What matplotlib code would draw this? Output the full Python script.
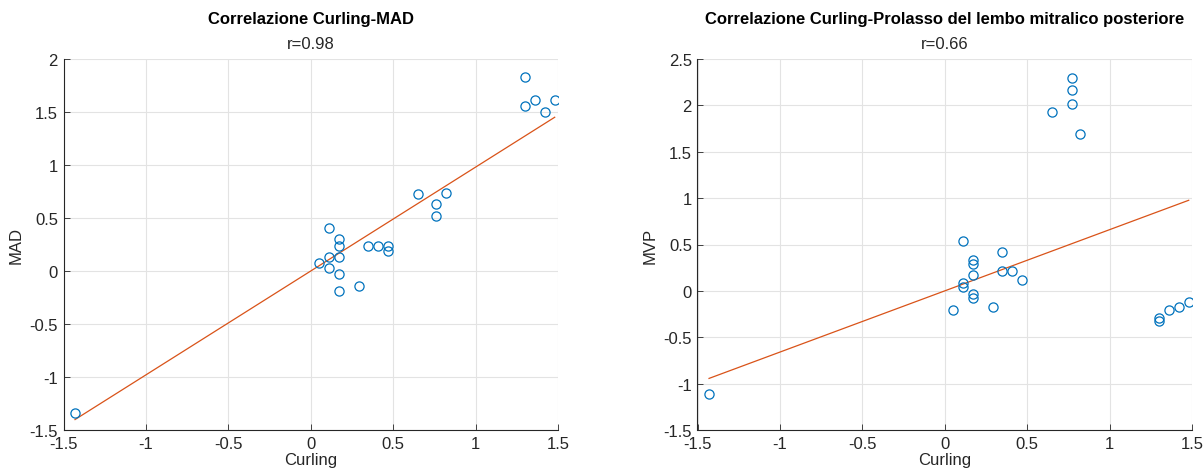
import matplotlib
matplotlib.use("Agg")
import matplotlib.pyplot as plt
import numpy as np
from matplotlib.ticker import FuncFormatter

plt.rcParams["font.family"] = ["Liberation Sans", "DejaVu Sans"]
plt.rcParams["axes.unicode_minus"] = False

# Standardised scores: Curling vs MAD
curling_mad = [0.65, 0.82, 0.76, 0.76, 0.11, 0.17, 0.17, 0.35, 0.41, 0.47,
               0.47, 0.11, 0.17, 0.05, 0.11, 0.17, 0.29, 0.17,
               1.30, 1.30, 1.36, 1.42, 1.48, -1.43]
mad = [0.73, 0.74, 0.63, 0.52, 0.41, 0.30, 0.24, 0.24, 0.24, 0.24,
       0.19, 0.13, 0.13, 0.08, 0.03, -0.03, -0.14, -0.19,
       1.83, 1.56, 1.61, 1.50, 1.61, -1.34]
r_mad = 0.98

# Standardised scores: Curling vs posterior mitral leaflet prolapse
curling_mvp = [0.11, 0.35, 0.17, 0.17, 0.17, 0.35, 0.41, 0.47, 0.11, 0.11,
               0.17, 0.17, 0.05, 0.29,
               1.30, 1.30, 1.36, 1.42, 1.48,
               0.77, 0.77, 0.77, 0.65, 0.82, -1.43]
mvp = [0.54, 0.42, 0.33, 0.29, 0.17, 0.21, 0.21, 0.12, 0.09, 0.04,
       -0.03, -0.08, -0.21, -0.17,
       -0.29, -0.33, -0.21, -0.17, -0.12,
       2.30, 2.17, 2.01, 1.93, 1.69, -1.11]
r_mvp = 0.66

panels = [
    dict(x=curling_mad, y=mad, r=r_mad, ylabel="MAD",
         title="Correlazione Curling-MAD", ylim=(-1.5, 2.0)),
    dict(x=curling_mvp, y=mvp, r=r_mvp, ylabel="MVP",
         title="Correlazione Curling-Prolasso del lembo mitralico posteriore",
         ylim=(-1.5, 2.5)),
]

W, H = 1204, 477
fig = plt.figure(figsize=(W / 100, H / 100), dpi=100)
boxes = [(63.5, 60, 558, 431), (697.5, 60, 1192, 431)]

blue = "#0072BD"
orange = "#D95319"
axcol = "#262626"
fs = 12


def tick_fmt(v, _):
    return "0" if abs(v) < 1e-9 else "%g" % round(v, 2)


for p, (x0, y0, x1, y1) in zip(panels, boxes):
    ax = fig.add_axes([x0 / W, 1 - y1 / H, (x1 - x0) / W, (y1 - y0) / H])
    xs = np.array(p["x"])
    ax.plot(xs, p["y"], "o", mfc="none", mec=blue, ms=6.6, mew=0.9, zorder=3)
    # fitted line on standardised data: y = r * x over the data range
    xl = np.array([xs.min(), xs.max()])
    ax.plot(xl, p["r"] * xl, color=orange, lw=0.9, zorder=2)

    ax.set_xlim(-1.5, 1.5)
    ax.set_ylim(*p["ylim"])
    ax.set_xticks(np.arange(-1.5, 1.51, 0.5))
    ax.set_yticks(np.arange(p["ylim"][0], p["ylim"][1] + 0.01, 0.5))
    ax.xaxis.set_major_formatter(FuncFormatter(tick_fmt))
    ax.yaxis.set_major_formatter(FuncFormatter(tick_fmt))
    ax.grid(True, color="#e3e3e3", lw=0.8, zorder=0)
    ax.set_axisbelow(True)
    for s in ("top", "right"):
        ax.spines[s].set_visible(False)
    for s in ("left", "bottom"):
        ax.spines[s].set_color(axcol)
        ax.spines[s].set_linewidth(0.8)
    ax.tick_params(direction="in", length=4, width=0.6, colors=axcol,
                   labelsize=fs, labelcolor=axcol, pad=4)
    ax.set_xlabel("Curling", fontsize=fs, color=axcol, labelpad=1)
    ax.set_ylabel(p["ylabel"], fontsize=fs, color=axcol, labelpad=4)
    ax.text(0.5, 1.108, p["title"], transform=ax.transAxes, ha="center",
            va="center", fontsize=fs, fontweight="bold", color="black")
    ax.text(0.5, 1.042, "r=%.2f" % p["r"], transform=ax.transAxes, ha="center",
            va="center", fontsize=fs, color=axcol)

fig.savefig("out.png", dpi=100)
